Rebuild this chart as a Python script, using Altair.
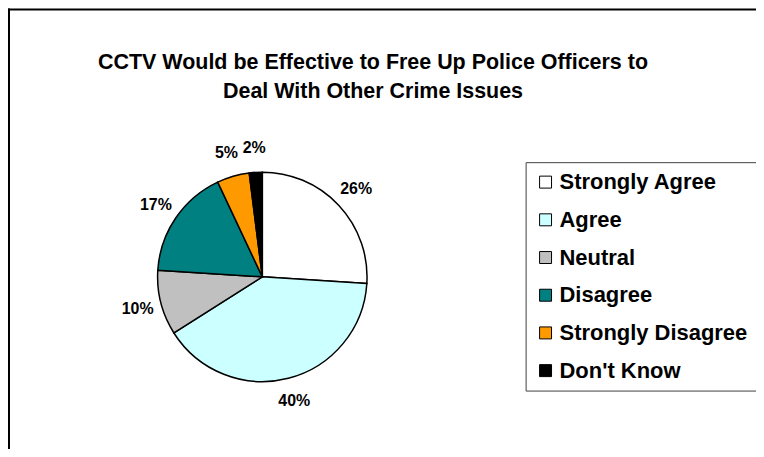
import altair as alt
import pandas as pd

categories = ["Strongly Agree", "Agree", "Neutral", "Disagree", "Strongly Disagree", "Don't Know"]
percents = [26, 40, 10, 17, 5, 2]
colors = ["#FFFFFF", "#CCFFFF", "#C0C0C0", "#008080", "#FF9900", "#000000"]
title_lines = ["CCTV Would be Effective to Free Up Police Officers to", "Deal With Other Crime Issues"]

df = pd.DataFrame({
    "category": categories,
    "percent": percents,
    "order": list(range(len(categories))),
    "label": [f"{p}%" for p in percents],
})

W, H = 750, 441
CX, CY = 255, 269
R = 105
RL = 129
FONT = "Liberation Sans"

base = alt.Chart(df).encode(
    theta=alt.Theta("percent:Q", stack=True),
    order=alt.Order("order:Q", sort="ascending"),
)

pie = base.mark_arc(radius=R, stroke="black", strokeWidth=1.5).encode(
    x=alt.value(CX),
    y=alt.value(CY),
    color=alt.Color(
        "category:N",
        scale=alt.Scale(domain=categories, range=colors),
        legend=alt.Legend(
            title=None, orient="none", legendX=519, legendY=154,
            symbolType="square", symbolSize=144, symbolStrokeColor="black",
            symbolStrokeWidth=1, symbolOpacity=1,
            labelFontSize=22, labelFont=FONT, labelFontWeight="bold",
            labelColor="black", rowPadding=15.8, labelOffset=3, padding=9,
            strokeColor="#404040", fillColor="white", labelLimit=400,
        ),
    ),
)

labels = base.mark_text(radius=RL, font=FONT, fontSize=16, fontWeight="bold", color="black").encode(
    x=alt.value(CX),
    y=alt.value(CY),
    text="label:N",
)

frame_df = pd.DataFrame({"k": [0]})
left_line = alt.Chart(frame_df).mark_rule(color="black", strokeWidth=2).encode(
    x=alt.value(1), y=alt.value(0), y2=alt.value(H + 10)
)
top_line = alt.Chart(frame_df).mark_rule(color="black", strokeWidth=2).encode(
    x=alt.value(0), x2=alt.value(W + 10), y=alt.value(1)
)

chart = alt.layer(left_line, top_line, pie, labels).properties(
    width=W,
    height=H,
    autosize="none",
    padding=0,
    title=alt.TitleParams(
        text=title_lines, anchor="middle", frame="group", fontSize=21.5, font=FONT,
        fontWeight="bold", color="black", offset=-95, baseline="top",
        lineHeight=29, dx=-9,
    ),
).configure_view(stroke=None)

chart.save("out.html", embed_options={"renderer": "svg", "actions": False})
